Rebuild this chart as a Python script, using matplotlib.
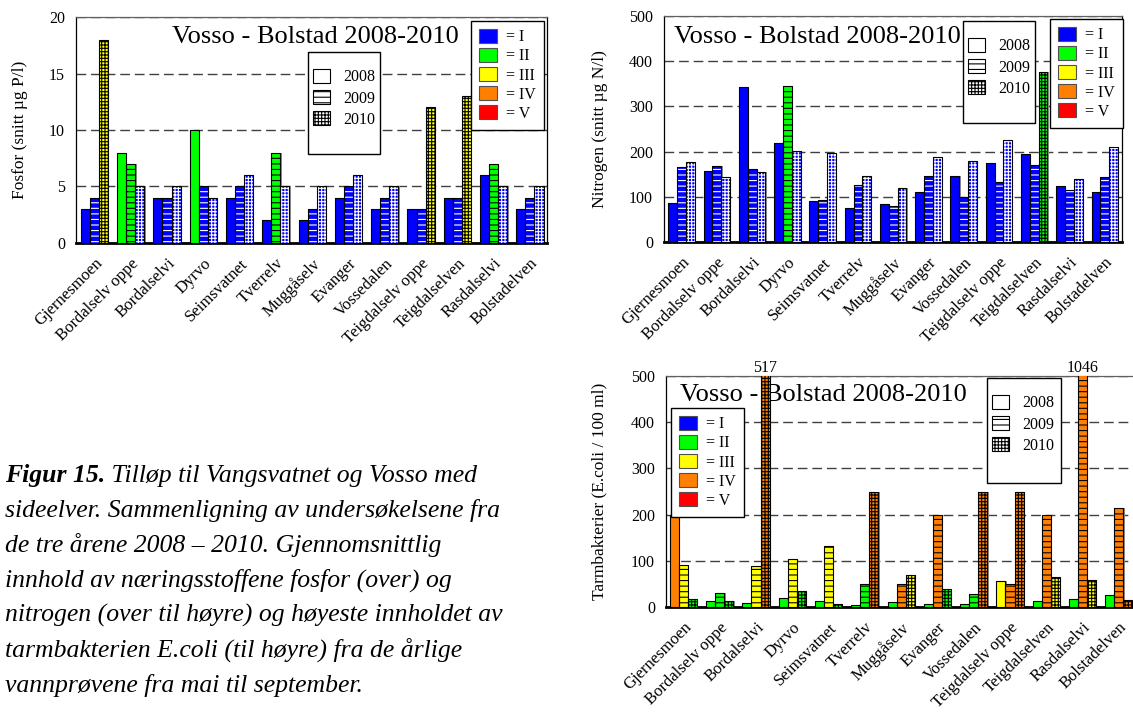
import numpy as np
import matplotlib
matplotlib.use("Agg")
import matplotlib.pyplot as plt
from matplotlib.patches import Patch, Rectangle

plt.rcParams["font.family"] = ["Liberation Serif", "DejaVu Serif"]
plt.rcParams["hatch.linewidth"] = 0.8

stasjoner = ["Gjernesmoen", "Bordalselv oppe", "Bordalselvi", "Dyrvo", "Seimsvatnet",
             "Tverrelv", "Muggåselv", "Evanger", "Vossedalen", "Teigdalselv oppe",
             "Teigdalselven", "Rasdalselvi", "Bolstadelven"]
aar = ["2008", "2009", "2010"]

# fosfor, snitt ug P/l
fosfor_2008 = [3, 8, 4, 10, 4, 2, 2, 4, 3, 3, 4, 6, 3]
fosfor_2009 = [4, 7, 4, 5, 5, 8, 3, 5, 4, 3, 4, 7, 4]
fosfor_2010 = [18, 5, 5, 4, 6, 5, 5, 6, 5, 12, 13, 5, 5]
fosfor_kl_2008 = [1, 2, 1, 2, 1, 1, 1, 1, 1, 1, 1, 1, 1]
fosfor_kl_2009 = [1, 2, 1, 1, 1, 2, 1, 1, 1, 1, 1, 2, 1]
fosfor_kl_2010 = [3, 1, 1, 1, 1, 1, 1, 1, 1, 3, 3, 1, 1]

# nitrogen, snitt ug N/l
nitrogen_2008 = [87, 157, 343, 218, 90, 75, 83, 111, 145, 174, 194, 125, 110]
nitrogen_2009 = [165, 169, 162, 346, 92, 127, 80, 145, 100, 133, 170, 114, 144]
nitrogen_2010 = [176, 144, 154, 202, 196, 146, 119, 189, 179, 225, 377, 140, 211]
nitrogen_kl_2008 = [1, 1, 1, 1, 1, 1, 1, 1, 1, 1, 1, 1, 1]
nitrogen_kl_2009 = [1, 1, 1, 2, 1, 1, 1, 1, 1, 1, 1, 1, 1]
nitrogen_kl_2010 = [1, 1, 1, 1, 1, 1, 1, 1, 1, 1, 2, 1, 1]

# tarmbakterier, E.coli / 100 ml
ecoli_2008 = [200, 12, 9, 20, 12, 5, 11, 6, 7, 56, 14, 17, 27]
ecoli_2009 = [90, 31, 88, 103, 131, 49, 50, 200, 29, 50, 200, 1046, 214]
ecoli_2010 = [18, 14, 517, 35, 6, 250, 70, 40, 250, 250, 66, 59, 16]
ecoli_kl_2008 = [4, 2, 2, 2, 2, 2, 2, 2, 2, 3, 2, 2, 2]
ecoli_kl_2009 = [3, 2, 3, 3, 3, 2, 4, 4, 2, 4, 4, 4, 4]
ecoli_kl_2010 = [2, 2, 4, 2, 2, 4, 3, 2, 4, 4, 3, 3, 4]

klasse_farger = ["#0000ff", "#00ff00", "#ffff00", "#ff8000", "#ff0000"]
klasse_navn = ["= I", "= II", "= III", "= IV", "= V"]
monster = ["", "---", "+++++"]

W, H = 1133, 712
fig = plt.figure(figsize=(W / 100, H / 100), dpi=100)


def fx(x):
    return x / W


def fy(y):
    return 1 - y / H


def lag_akse(venstre, topp, hoyre, bunn):
    return fig.add_axes([fx(venstre), fy(bunn), (hoyre - venstre) / W, (bunn - topp) / H])


def tegn(ax, verdier, klasser, ymax, steg, ylabel, xlim, label_x):
    x = np.arange(len(stasjoner))
    w = 0.25
    for i, (v, k) in enumerate(zip(verdier, klasser)):
        pos = x + (i - 1) * w
        fc = [klasse_farger[c - 1] for c in k]
        hc = ["white" if c == 1 else "black" for c in k]
        ax.bar(pos + 0.035, v, w, color="#8c8c8c", linewidth=0, zorder=2)
        ax.bar(pos, v, w, color=fc, edgecolor=hc, linewidth=0, hatch=monster[i], zorder=3)
        ax.bar(pos, v, w, fill=False, edgecolor="black", linewidth=0.8, zorder=4)
    ax.set_ylim(0, ymax)
    ax.set_xlim(*xlim)
    ax.set_yticks(np.arange(0, ymax + 1, steg))
    ax.yaxis.grid(True, linestyle=(0, (7, 3.5)), color="#404040", linewidth=1)
    ax.set_axisbelow(True)
    ax.tick_params(axis="y", length=0, pad=8, labelsize=11.5)
    ax.set_xticks(x, stasjoner, rotation=45, ha="right", rotation_mode="anchor", fontsize=12)
    ax.tick_params(axis="x", length=0, pad=9)
    ax.set_ylabel(ylabel, fontsize=12.5)
    ax.yaxis.set_label_coords(label_x, 0.5)
    for s in ["left", "right", "top"]:
        ax.spines[s].set_linewidth(0.9)
    ax.spines["top"].set_color("#606060")
    ax.spines["bottom"].set_linewidth(2)


def klasse_legende(x, y, loc):
    h = [Patch(facecolor=c, edgecolor="#505050", linewidth=0.8, label=n)
         for c, n in zip(klasse_farger, klasse_navn)]
    fig.legend(handles=h, loc=loc, bbox_to_anchor=(fx(x), fy(y)), fontsize=11.5,
               fancybox=False, edgecolor="black", framealpha=1, handlelength=1.1,
               handleheight=0.95, handletextpad=0.6, labelspacing=0.17,
               borderpad=0.5, borderaxespad=0)


def aar_legende(x0, y0, x1, y1):
    fig.add_artist(Rectangle((fx(x0), fy(y1)), (x1 - x0) / W, (y1 - y0) / H,
                             transform=fig.transFigure, facecolor="white",
                             edgecolor="black", linewidth=1))
    h = [Patch(facecolor="white", edgecolor="black", linewidth=0.8, hatch=m, label=a)
         for m, a in zip(monster, aar)]
    fig.legend(handles=h, loc="upper left", bbox_to_anchor=(fx(x0 + 5), fy(y0 + 17)),
               fontsize=11.5, frameon=False, handlelength=1.05, handleheight=0.95,
               handletextpad=0.85, labelspacing=0.3, borderpad=0, borderaxespad=0)


tittel = "Vosso - Bolstad 2008-2010"

# fosfor
ax1 = lag_akse(76, 17, 547, 243)
tegn(ax1, [fosfor_2008, fosfor_2009, fosfor_2010],
     [fosfor_kl_2008, fosfor_kl_2009, fosfor_kl_2010],
     20, 5, "Fosfor (snitt µg P/l)", (-0.507, 12.47), -0.102)
ax1.text(fx(315), fy(37), tittel, transform=fig.transFigure, ha="center", va="center",
         fontsize=19, zorder=1)
klasse_legende(544, 21, "upper right")
aar_legende(308, 52, 380, 154)

# nitrogen
ax2 = lag_akse(664, 16, 1122, 242)
tegn(ax2, [nitrogen_2008, nitrogen_2009, nitrogen_2010],
     [nitrogen_kl_2008, nitrogen_kl_2009, nitrogen_kl_2010],
     500, 100, "Nitrogen (snitt µg N/l)", (-0.5, 12.49), -0.123)
ax2.text(fx(817), fy(37), tittel, transform=fig.transFigure, ha="center", va="center",
         fontsize=19, zorder=1)
klasse_legende(1123, 19, "upper right")
aar_legende(963, 21, 1035, 123)

# tarmbakterier
ax3 = lag_akse(666, 376, 1137, 607)
tegn(ax3, [ecoli_2008, ecoli_2009, ecoli_2010],
     [ecoli_kl_2008, ecoli_kl_2009, ecoli_kl_2010],
     500, 100, "Tarmbakterier (E.coli / 100 ml)", (-0.48, 12.5), -0.124)
ax3.text(fx(823), fy(395), tittel, transform=fig.transFigure, ha="center", va="center",
         fontsize=19, zorder=1)
ax3.spines["right"].set_visible(False)
xs = np.arange(len(stasjoner))
for i, serie in enumerate([ecoli_2008, ecoli_2009, ecoli_2010]):
    for j, v in enumerate(serie):
        if v > 500:
            ax3.text(xs[j] + (i - 1) * 0.25, 500, str(v), ha="center", va="bottom",
                     fontsize=11.5, clip_on=False)
klasse_legende(671, 408, "upper left")
aar_legende(987, 378, 1061, 483)

# figurtekst
t1 = fig.text(fx(5), fy(482), "Figur 15.", fontsize=18.5, style="italic",
              weight="bold", va="baseline")
ax1.annotate(" Tilløp til Vangsvatnet og Vosso med", xy=(1, 0), xycoords=t1,
             fontsize=18.5, style="italic", va="bottom", ha="left")
linjer = ["sideelver. Sammenligning av undersøkelsene fra",
          "de tre årene 2008 – 2010. Gjennomsnittlig",
          "innhold av næringsstoffene fosfor (over) og",
          "nitrogen (over til høyre) og høyeste innholdet av",
          "tarmbakterien E.coli (til høyre) fra de årlige",
          "vannprøvene fra mai til september."]
for i, l in enumerate(linjer):
    fig.text(fx(5), fy(482 + 35 * (i + 1)), l, fontsize=18.5, style="italic",
             va="baseline")

fig.savefig("out.png", dpi=100)
